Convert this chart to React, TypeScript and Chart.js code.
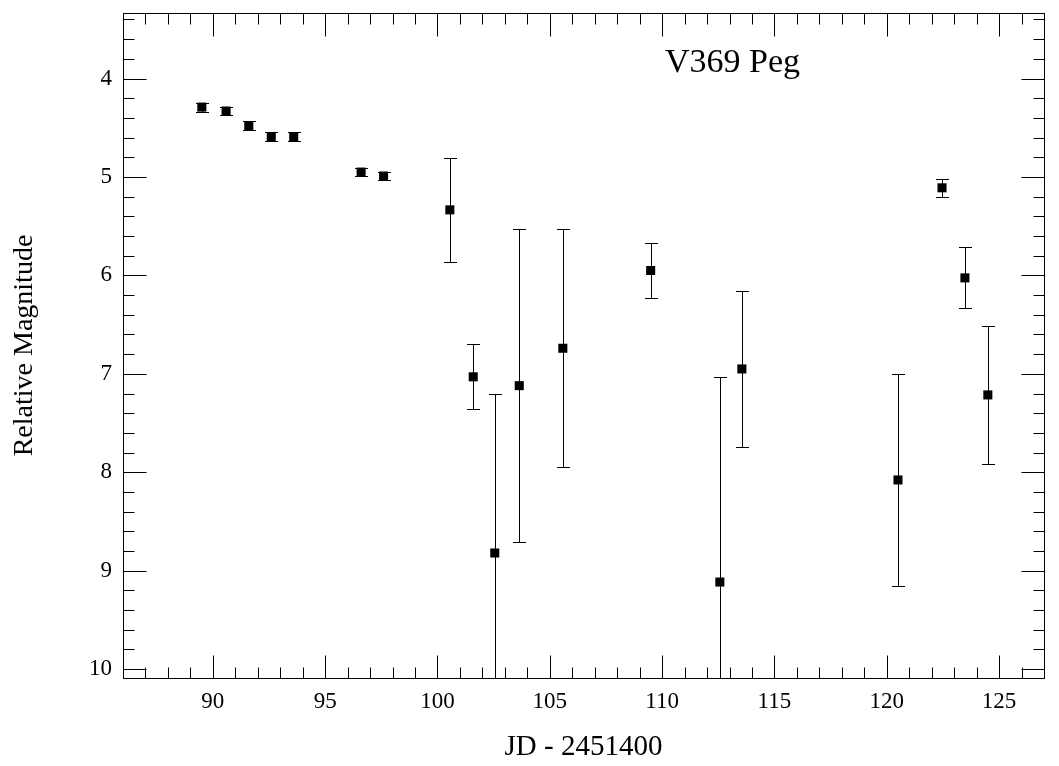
import React, { useEffect, useRef } from 'react';
import { Chart, registerables } from 'chart.js';

Chart.register(...registerables);

// ---- data ----
const jd = [89.51, 90.59, 91.6, 92.6, 93.6, 96.6, 97.6, 100.55, 101.59, 102.55, 103.64, 105.58, 109.49, 112.57, 113.55, 120.5, 122.46, 123.48, 124.5];
const mag = [4.29, 4.33, 4.48, 4.59, 4.59, 4.95, 4.99, 5.334, 7.03, 8.82, 7.12, 6.74, 5.95, 9.115, 6.95, 8.078, 5.11, 6.025, 7.214];
const magErr = [0.045, 0.043, 0.047, 0.043, 0.043, 0.043, 0.045, 0.53, 0.33, 1.62, 1.59, 1.21, 0.28, 2.08, 0.79, 1.08, 0.09, 0.31, 0.7];
const xTickValues = [90, 95, 100, 105, 110, 115, 120, 125];
const yTickValues = [4, 5, 6, 7, 8, 9, 10];
const starName = 'V369 Peg';
const xTitle = 'JD - 2451400';
const yTitle = 'Relative Magnitude';

const FONT = "'Liberation Serif', 'Times New Roman', Times, serif";

const framePlugin = {
  id: 'frameTicks',
  beforeDatasetsDraw(chart: any) {
    const { ctx, chartArea: a, scales } = chart;
    const x = scales.x;
    const y = scales.y;
    ctx.save();
    ctx.beginPath();
    ctx.rect(a.left, a.top, a.right - a.left, a.bottom - a.top);
    ctx.clip();
    ctx.strokeStyle = '#000';
    ctx.lineWidth = 1;
    const cap = 6.5;
    for (let i = 0; i < jd.length; i++) {
      const px = Math.round(x.getPixelForValue(jd[i])) + 0.5;
      const t = Math.round(y.getPixelForValue(mag[i] - magErr[i])) + 0.5;
      const b = Math.round(y.getPixelForValue(mag[i] + magErr[i])) + 0.5;
      ctx.beginPath();
      ctx.moveTo(px, t);
      ctx.lineTo(px, b);
      ctx.moveTo(px - cap, t);
      ctx.lineTo(px + cap, t);
      ctx.moveTo(px - cap, b);
      ctx.lineTo(px + cap, b);
      ctx.stroke();
    }
    ctx.restore();
  },
  afterDatasetsDraw(chart: any) {
    const { ctx, chartArea: a, scales } = chart;
    const x = scales.x;
    const y = scales.y;
    ctx.save();
    ctx.strokeStyle = '#000';
    ctx.lineWidth = 1;
    const L = a.left + 0.5;
    const R = a.right + 0.5;
    const T = a.top + 0.5;
    const B = a.bottom + 0.5;
    ctx.beginPath();
    ctx.rect(L, T, R - L, B - T);
    ctx.stroke();
    const major = 23;
    const minor = 11;
    ctx.beginPath();
    for (let v = Math.ceil(x.min); v <= Math.floor(x.max); v++) {
      const px = Math.round(x.getPixelForValue(v)) + 0.5;
      const len = v % 5 === 0 ? major : minor;
      ctx.moveTo(px, B);
      ctx.lineTo(px, B - len);
      ctx.moveTo(px, T);
      ctx.lineTo(px, T + len);
    }
    for (let k = Math.ceil(y.min * 5 - 1e-6); k <= Math.floor(y.max * 5 + 1e-6); k++) {
      const v = k / 5;
      const py = Math.round(y.getPixelForValue(v)) + 0.5;
      const len = k % 5 === 0 ? major : minor;
      ctx.moveTo(L, py);
      ctx.lineTo(L + len, py);
      ctx.moveTo(R, py);
      ctx.lineTo(R - len, py);
    }
    ctx.stroke();
    ctx.fillStyle = '#000';
    ctx.font = `34px ${FONT}`;
    ctx.textAlign = 'left';
    ctx.textBaseline = 'alphabetic';
    ctx.fillText(starName, a.left + 542, a.top + 59);
    ctx.restore();
  },
};

const zeroPad = (s: any) => {
  s.paddingTop = 0;
  s.paddingBottom = 0;
  s.paddingLeft = 0;
  s.paddingRight = 0;
};

export default function App() {
  const ref = useRef<HTMLCanvasElement | null>(null);
  useEffect(() => {
    if (!ref.current) return;
    const chart = new Chart(ref.current, {
      type: 'scatter',
      data: {
        datasets: [
          {
            data: jd.map((v, i) => ({ x: v, y: mag[i] })),
            pointStyle: 'rect',
            pointRadius: 6.4,
            pointBorderWidth: 0,
            pointBackgroundColor: '#000',
            pointBorderColor: '#000',
            showLine: false,
          },
        ],
      },
      options: {
        responsive: false,
        animation: false,
        events: [],
        layout: { padding: { left: 0, right: 15, top: 13, bottom: 0 } },
        plugins: { legend: { display: false }, tooltip: { enabled: false }, title: { display: false } },
        scales: {
          x: {
            type: 'linear',
            min: 86,
            max: 127,
            grid: { display: false, drawTicks: false },
            border: { display: false },
            afterBuildTicks: (s: any) => {
              s.ticks = xTickValues.map((v) => ({ value: v }));
            },
            afterFit: (s: any) => {
              s.height = 88;
              zeroPad(s);
            },
            ticks: {
              padding: 10,
              color: '#000',
              maxRotation: 0,
              autoSkip: false,
              font: { family: FONT, size: 23 },
            },
            title: {
              display: true,
              text: xTitle,
              color: '#000',
              font: { family: FONT, size: 29 },
              padding: { top: 0, bottom: 1 },
            },
          },
          y: {
            type: 'linear',
            min: 3.334,
            max: 10.09,
            reverse: true,
            grid: { display: false, drawTicks: false },
            border: { display: false },
            afterBuildTicks: (s: any) => {
              s.ticks = yTickValues.map((v) => ({ value: v }));
            },
            afterFit: (s: any) => {
              s.width = 123;
              zeroPad(s);
            },
            ticks: {
              padding: 11,
              color: '#000',
              autoSkip: false,
              font: { family: FONT, size: 23 },
            },
            title: {
              display: true,
              text: yTitle,
              color: '#000',
              font: { family: FONT, size: 28 },
              padding: { top: 8, bottom: 0 },
            },
          },
        },
      },
      plugins: [framePlugin],
    });
    return () => chart.destroy();
  }, []);
  return (
    <div style={{ position: 'absolute', left: 0, top: 0, width: 1059, height: 766, background: '#fff' }}>
      <canvas ref={ref} width={1059} height={766} />
    </div>
  );
}
